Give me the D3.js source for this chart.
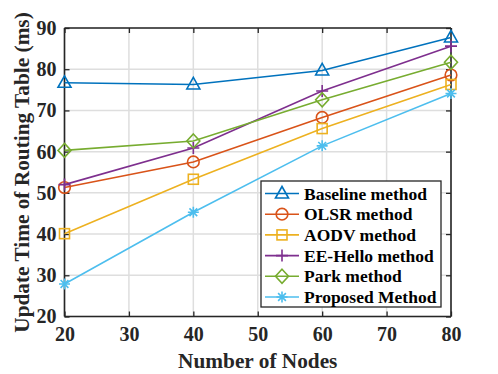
<!DOCTYPE html>
<html><head><meta charset="utf-8">
<script src="https://cdn.jsdelivr.net/npm/d3@7"></script>
<style>body{margin:0;background:#fff;} svg{display:block;} text{font-family:"Liberation Serif","Times New Roman",serif;font-weight:bold;}</style>
</head><body><svg id="c" width="498" height="374"></svg>
<script>
const nodes = [20, 40, 60, 80];
const xTicks = [20, 30, 40, 50, 60, 70, 80];
const yTicks = [20, 30, 40, 50, 60, 70, 80, 90];
const baseline = [76.7, 76.3, 79.7, 87.7];
const olsr = [51.3, 57.5, 68.3, 78.6];
const aodv = [40.1, 53.3, 65.6, 76.3];
const eeHello = [52.0, 60.9, 74.7, 85.6];
const park = [60.3, 62.6, 72.6, 81.7];
const proposed = [27.9, 45.3, 61.4, 74.1];
const seriesNames = ["Baseline method", "OLSR method", "AODV method", "EE-Hello method", "Park method", "Proposed Method"];
const seriesColors = ["#0072BD", "#D95319", "#EDB120", "#7E2F8E", "#77AC30", "#4DBEEE"];
const seriesMarkers = ["triangle", "circle", "square", "plus", "diamond", "star"];
const seriesValues = [baseline, olsr, aodv, eeHello, park, proposed];

const svg = d3.select("#c");
const L = 64.5, R = 451, T = 28, B = 316.5;
const x = d3.scaleLinear().domain([20, 80]).range([L, R]);
const y = d3.scaleLinear().domain([20, 90]).range([B, T]);

// grid
const g = svg.append("g");
g.selectAll(".gx").data(xTicks).join("line")
  .attr("x1", d => x(d)).attr("x2", d => x(d)).attr("y1", T).attr("y2", B)
  .attr("stroke", "#dedede").attr("stroke-width", 1.5);
g.selectAll(".gy").data(yTicks).join("line")
  .attr("y1", d => y(d)).attr("y2", d => y(d)).attr("x1", L).attr("x2", R)
  .attr("stroke", "#dedede").attr("stroke-width", 1.5);

// axes
const tickLen = 5;
const axColor = "#262626";
const axB = svg.append("g").attr("transform", `translate(0,${B})`)
  .call(d3.axisBottom(x).tickValues(xTicks).tickSize(-tickLen).tickPadding(10).tickFormat(d3.format("d")));
const axT = svg.append("g").attr("transform", `translate(0,${T})`)
  .call(d3.axisTop(x).tickValues(xTicks).tickSize(-tickLen).tickFormat(""));
const axL = svg.append("g").attr("transform", `translate(${L},0)`)
  .call(d3.axisLeft(y).tickValues(yTicks).tickSize(-tickLen).tickPadding(8).tickFormat(d3.format("d")));
const axR = svg.append("g").attr("transform", `translate(${R},0)`)
  .call(d3.axisRight(y).tickValues(yTicks).tickSize(-tickLen).tickFormat(""));
[axB, axT, axL, axR].forEach(a => {
  a.attr("font-family", null).attr("font-size", null);
  a.select(".domain").attr("stroke", axColor).attr("stroke-width", 1.6);
  a.selectAll(".tick line").attr("stroke", axColor).attr("stroke-width", 1.3);
  a.selectAll("text").attr("fill", "#262626").style("font-size", "20px");
});
axB.selectAll(".domain").attr("d", `M${L},0H${R}`);
axT.selectAll(".domain").attr("d", `M${L},0H${R}`);
axL.selectAll(".domain").attr("d", `M0,${T}V${B}`);
axR.selectAll(".domain").attr("d", `M0,${T}V${B}`);

// markers
function drawMarker(sel, type, color, cx, cy) {
  const s = 6;
  if (type === "triangle") {
    sel.append("path").attr("d", `M${cx},${cy - s - 1}L${cx + s + 0.5},${cy + s - 1.5}L${cx - s - 0.5},${cy + s - 1.5}Z`)
      .attr("fill", "none").attr("stroke", color).attr("stroke-width", 1.6);
  } else if (type === "circle") {
    sel.append("circle").attr("cx", cx).attr("cy", cy).attr("r", 5.8)
      .attr("fill", "none").attr("stroke", color).attr("stroke-width", 1.6);
  } else if (type === "square") {
    sel.append("rect").attr("x", cx - 5).attr("y", cy - 5).attr("width", 10).attr("height", 10)
      .attr("fill", "none").attr("stroke", color).attr("stroke-width", 1.6);
  } else if (type === "plus") {
    sel.append("path").attr("d", `M${cx - 6},${cy}H${cx + 6}M${cx},${cy - 6}V${cy + 6}`)
      .attr("fill", "none").attr("stroke", color).attr("stroke-width", 1.6);
  } else if (type === "diamond") {
    sel.append("path").attr("d", `M${cx},${cy - 7}L${cx + 6.5},${cy}L${cx},${cy + 7}L${cx - 6.5},${cy}Z`)
      .attr("fill", "none").attr("stroke", color).attr("stroke-width", 1.6);
  } else if (type === "star") {
    const r = 5.5, d = r * 0.707;
    sel.append("path").attr("d", `M${cx - r},${cy}H${cx + r}M${cx},${cy - r}V${cy + r}M${cx - d},${cy - d}L${cx + d},${cy + d}M${cx - d},${cy + d}L${cx + d},${cy - d}`)
      .attr("fill", "none").attr("stroke", color).attr("stroke-width", 1.6);
  }
}

const line = d3.line().x((d, i) => x(nodes[i])).y(d => y(d));
seriesValues.forEach((vals, k) => {
  const sg = svg.append("g");
  sg.append("path").datum(vals).attr("d", line)
    .attr("fill", "none").attr("stroke", seriesColors[k]).attr("stroke-width", 1.6);
  vals.forEach((v, i) => drawMarker(sg, seriesMarkers[k], seriesColors[k], x(nodes[i]), y(v)));
});

// legend
const lx = 261, ly = 181, lw = 180, lh = 126;
const lg = svg.append("g");
lg.append("rect").attr("x", lx).attr("y", ly).attr("width", lw).attr("height", lh)
  .attr("fill", "#fff").attr("stroke", axColor).attr("stroke-width", 1.3);
seriesNames.forEach((name, k) => {
  const ry = 193.5 + k * 20.7;
  lg.append("line").attr("x1", 265).attr("x2", 299).attr("y1", ry).attr("y2", ry)
    .attr("stroke", seriesColors[k]).attr("stroke-width", 1.6);
  drawMarker(lg, seriesMarkers[k], seriesColors[k], 282, ry);
  lg.append("text").attr("x", 304).attr("y", ry + 6).text(name)
    .attr("fill", "#000").style("font-size", "17.5px");
});

// axis titles
svg.append("text").attr("x", (L + R) / 2).attr("y", 368).attr("text-anchor", "middle")
  .attr("fill", "#262626").style("font-size", "21.3px").text("Number of Nodes");
svg.append("text").attr("transform", `translate(28.5,172.5) rotate(-90)`).attr("text-anchor", "middle")
  .attr("fill", "#262626").style("font-size", "21.3px").text("Update Time of Routing Table (ms)");
</script></body></html>
